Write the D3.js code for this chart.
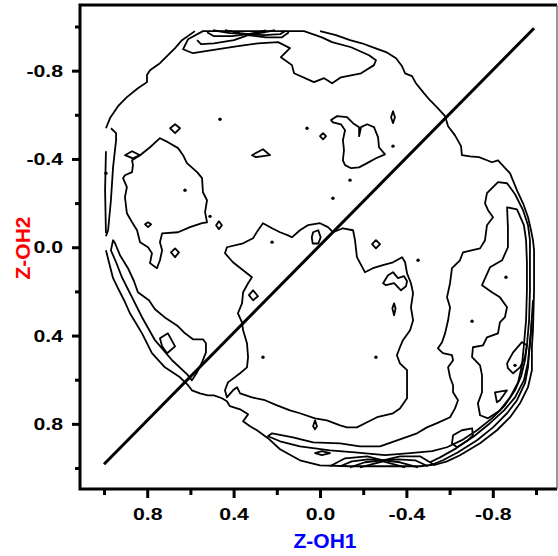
<!DOCTYPE html>
<html lang="en">
<head>
<meta charset="UTF-8">
<title>Z-OH1 vs Z-OH2 contour</title>
<script src="https://d3js.org/d3.v7.min.js"></script>
<style>
  body { margin: 0; background: #fff; }
  svg { display: block; font-family: Arial, 'Liberation Sans', sans-serif; }
  .axis path { display: none; }
  .axis line { stroke: #000; stroke-width: 3; }
  .axis text { font-size: 17px; font-weight: bold; fill: #000; }
  .contour { fill: none; stroke: #000; stroke-width: 1.8; stroke-linejoin: round; }
  .title { font-size: 21px; font-weight: bold; }
</style>
</head>
<body>
<svg width="558" height="556"></svg>
<script>
// tick values
const majorTicks = [-0.8, -0.4, 0, 0.4, 0.8];
const minorTicks = [-1, -0.6, -0.2, 0.2, 0.6, 1];

// diagonal reference line
const diagonal = [[1.0, 0.983], [-0.991, -0.992]];

// contour lines, points are [Z-OH1, Z-OH2]
const outerTopLeft = [[0.579,-0.979],[0.639,-0.938],[0.671,-0.902],[0.741,-0.834],[0.787,-0.802],[0.801,-0.780],[0.801,-0.748],[0.843,-0.720],[0.894,-0.680],[0.935,-0.639],[0.972,-0.585],[0.991,-0.539]];
const outerLeftEdge = [[0.991,-0.435],[0.995,-0.258],[0.991,-0.063]];
const outerMain = [[0.991,0.014],[0.977,0.068],[0.958,0.140],[0.935,0.186],[0.907,0.240],[0.880,0.299],[0.852,0.344],[0.824,0.390],[0.778,0.480],[0.718,0.544],[0.648,0.589],[0.611,0.625],[0.593,0.648],[0.556,0.662],[0.519,0.671],[0.491,0.671],[0.454,0.684],[0.431,0.698],[0.417,0.720],[0.370,0.734],[0.333,0.757],[0.356,0.788],[0.324,0.811],[0.292,0.829],[0.241,0.865],[0.185,0.915],[0.093,0.965],[0.000,0.988],[-0.139,0.992],[-0.292,0.992],[-0.463,0.992],[-0.542,0.983],[-0.588,0.970],[-0.648,0.942],[-0.741,0.888],[-0.819,0.829],[-0.880,0.770],[-0.926,0.707],[-0.963,0.634],[-0.981,0.557],[-0.981,0.453],[-0.986,0.376],[-0.991,0.195],[-0.991,0.014],[-0.986,-0.032],[-0.977,-0.077],[-0.963,-0.136],[-0.940,-0.199],[-0.912,-0.258],[-0.880,-0.335],[-0.824,-0.394],[-0.796,-0.385],[-0.773,-0.394],[-0.736,-0.408],[-0.694,-0.412],[-0.657,-0.417],[-0.653,-0.458],[-0.625,-0.507],[-0.593,-0.548],[-0.579,-0.594],[-0.542,-0.634],[-0.509,-0.666],[-0.481,-0.698],[-0.444,-0.743],[-0.426,-0.775],[-0.394,-0.788],[-0.380,-0.820],[-0.352,-0.856],[-0.306,-0.884],[-0.255,-0.902],[-0.194,-0.924],[-0.139,-0.938],[-0.074,-0.961],[0.000,-0.979]];
const leftEdgeBand = [[0.968,-0.539],[0.944,-0.517],[0.944,-0.485],[0.958,-0.363],[0.968,-0.213],[0.981,-0.077],[0.991,-0.050]];
const topLevel2 = [[0.542,-0.979],[0.611,-0.942],[0.634,-0.897],[0.588,-0.879],[0.500,-0.893],[0.380,-0.911],[0.287,-0.924],[0.194,-0.929],[0.139,-0.902],[0.181,-0.861],[0.130,-0.825],[0.120,-0.788],[0.028,-0.748],[-0.019,-0.766],[-0.056,-0.743],[-0.097,-0.770],[-0.190,-0.788],[-0.250,-0.825],[-0.259,-0.847],[-0.227,-0.870],[-0.144,-0.906],[-0.056,-0.929],[-0.009,-0.951],[0.074,-0.979]];
const topFanA = [[0.569,-0.938],[0.551,-0.920],[0.491,-0.924],[0.398,-0.938],[0.333,-0.961],[0.250,-0.951],[0.176,-0.951],[0.144,-0.974]];
const topFanB = [[0.523,-0.974],[0.491,-0.956],[0.407,-0.956],[0.333,-0.965],[0.259,-0.961],[0.185,-0.965],[0.162,-0.979]];
const topFanC = [[0.495,-0.983],[0.417,-0.970],[0.333,-0.965],[0.255,-0.974],[0.208,-0.983]];
const topFanD = [[0.440,-0.983],[0.370,-0.970],[0.333,-0.965],[0.287,-0.974],[0.250,-0.983]];
const lowerLeftBand = [[0.958,-0.032],[0.968,0.014],[0.944,0.068],[0.917,0.136],[0.870,0.227],[0.824,0.317],[0.764,0.421],[0.685,0.512],[0.616,0.575],[0.593,0.603],[0.569,0.566],[0.546,0.521],[0.528,0.476],[0.528,0.435],[0.542,0.417],[0.588,0.417],[0.625,0.390],[0.657,0.358],[0.713,0.322],[0.764,0.281],[0.792,0.240],[0.843,0.204],[0.861,0.154],[0.889,0.095],[0.926,0.036],[0.949,-0.018]];
const leftIsland = [[0.833,-0.417],[0.787,-0.453],[0.741,-0.494],[0.704,-0.476],[0.657,-0.449],[0.634,-0.417],[0.616,-0.381],[0.569,-0.340],[0.546,-0.313],[0.542,-0.249],[0.523,-0.213],[0.532,-0.159],[0.523,-0.113],[0.546,-0.109],[0.602,-0.091],[0.657,-0.068],[0.731,-0.063],[0.741,-0.023],[0.731,0.014],[0.741,0.059],[0.755,0.095],[0.787,0.072],[0.778,0.027],[0.796,0.000],[0.833,-0.023],[0.847,-0.077],[0.870,-0.113],[0.894,-0.154],[0.903,-0.227],[0.894,-0.272],[0.912,-0.313],[0.903,-0.326],[0.870,-0.340],[0.866,-0.372],[0.870,-0.394]];
const centerTopIsland = [[-0.051,-0.576],[-0.079,-0.594],[-0.125,-0.589],[-0.153,-0.562],[-0.181,-0.544],[-0.181,-0.503],[-0.190,-0.544],[-0.218,-0.557],[-0.250,-0.544],[-0.269,-0.498],[-0.273,-0.453],[-0.301,-0.421],[-0.259,-0.403],[-0.218,-0.381],[-0.181,-0.362],[-0.144,-0.358],[-0.116,-0.372],[-0.106,-0.394],[-0.111,-0.440],[-0.106,-0.485],[-0.116,-0.530],[-0.097,-0.557],[-0.060,-0.566]];
const centerRegion = [[0.431,0.000],[0.356,-0.018],[0.310,-0.041],[0.287,-0.077],[0.264,-0.109],[0.222,-0.086],[0.185,-0.068],[0.148,-0.054],[0.130,-0.045],[0.093,-0.077],[0.056,-0.100],[0.000,-0.109],[-0.037,-0.091],[-0.060,-0.068],[-0.106,-0.086],[-0.153,-0.077],[-0.162,-0.032],[-0.171,0.045],[-0.208,0.113],[-0.245,0.095],[-0.287,0.082],[-0.338,0.068],[-0.380,0.045],[-0.394,0.068],[-0.403,0.118],[-0.421,0.163],[-0.431,0.208],[-0.421,0.272],[-0.431,0.331],[-0.417,0.376],[-0.384,0.421],[-0.370,0.453],[-0.356,0.489],[-0.370,0.526],[-0.403,0.557],[-0.403,0.603],[-0.403,0.684],[-0.370,0.730],[-0.338,0.752],[-0.264,0.770],[-0.218,0.793],[-0.171,0.816],[-0.125,0.816],[-0.093,0.807],[-0.032,0.784],[0.023,0.775],[0.093,0.752],[0.139,0.739],[0.199,0.716],[0.255,0.693],[0.315,0.680],[0.370,0.662],[0.384,0.634],[0.403,0.648],[0.431,0.680],[0.440,0.648],[0.426,0.612],[0.370,0.571],[0.338,0.544],[0.333,0.498],[0.338,0.435],[0.356,0.376],[0.361,0.340],[0.380,0.299],[0.361,0.254],[0.356,0.204],[0.333,0.163],[0.315,0.136],[0.356,0.104],[0.403,0.068],[0.440,0.027]];
const rightBand2 = [[-0.824,-0.295],[-0.773,-0.245],[-0.764,-0.199],[-0.778,-0.168],[-0.801,-0.136],[-0.773,-0.100],[-0.764,-0.032],[-0.741,0.005],[-0.662,0.023],[-0.648,0.059],[-0.611,0.095],[-0.602,0.163],[-0.588,0.227],[-0.602,0.272],[-0.593,0.331],[-0.579,0.390],[-0.565,0.430],[-0.546,0.458],[-0.569,0.480],[-0.611,0.489],[-0.616,0.512],[-0.593,0.544],[-0.602,0.589],[-0.616,0.625],[-0.616,0.657],[-0.639,0.693],[-0.625,0.730],[-0.602,0.770],[-0.542,0.797],[-0.495,0.816],[-0.449,0.843],[-0.370,0.870],[-0.278,0.902],[-0.185,0.902],[-0.093,0.888],[0.032,0.884],[0.125,0.861],[0.222,0.843],[0.241,0.856],[0.185,0.879],[0.093,0.902],[-0.046,0.920],[-0.162,0.929],[-0.301,0.942],[-0.417,0.933],[-0.519,0.924],[-0.588,0.906],[-0.657,0.874],[-0.727,0.829],[-0.796,0.775],[-0.856,0.716],[-0.903,0.648],[-0.931,0.584],[-0.949,0.512],[-0.958,0.444],[-0.968,0.331],[-0.972,0.195],[-0.972,0.059],[-0.972,-0.032],[-0.963,-0.100],[-0.940,-0.168],[-0.903,-0.240],[-0.866,-0.290]];
const rightBand3 = [[-0.866,-0.181],[-0.870,-0.091],[-0.870,0.000],[-0.843,0.059],[-0.787,0.091],[-0.750,0.172],[-0.796,0.204],[-0.833,0.227],[-0.866,0.272],[-0.856,0.317],[-0.833,0.340],[-0.824,0.390],[-0.773,0.408],[-0.755,0.444],[-0.708,0.453],[-0.704,0.498],[-0.741,0.535],[-0.750,0.580],[-0.750,0.657],[-0.731,0.707],[-0.741,0.761],[-0.778,0.775],[-0.833,0.739],[-0.880,0.680],[-0.917,0.612],[-0.935,0.535],[-0.944,0.444],[-0.954,0.331],[-0.958,0.195],[-0.958,0.068],[-0.954,-0.032],[-0.944,-0.100],[-0.912,-0.172]];
const rightArcB = [[-0.986,0.240],[-0.977,0.376],[-0.968,0.467],[-0.963,0.544],[-0.949,0.616],[-0.912,0.693],[-0.866,0.752],[-0.801,0.816],[-0.727,0.874],[-0.639,0.929],[-0.569,0.965],[-0.523,0.983]];
const rightArcC = [[-0.981,0.331],[-0.972,0.444],[-0.963,0.521],[-0.944,0.603],[-0.903,0.680],[-0.852,0.739],[-0.787,0.797],[-0.713,0.856],[-0.630,0.911],[-0.556,0.952],[-0.509,0.974]];
const bottomFanA = [[-0.046,0.992],[-0.116,0.956],[-0.218,0.947],[-0.292,0.965],[-0.370,0.947],[-0.463,0.947],[-0.532,0.988]];
const bottomFanB = [[-0.093,0.992],[-0.148,0.970],[-0.222,0.961],[-0.292,0.965],[-0.361,0.961],[-0.440,0.965],[-0.500,0.992]];
const bottomFanC = [[-0.139,0.997],[-0.208,0.974],[-0.292,0.965],[-0.370,0.974],[-0.454,0.997]];
const bottomFanD = [[-0.185,0.997],[-0.292,0.970],[-0.394,0.997]];

// small closed loops
const smallLoops = [
  [[0.903,-0.417],[0.870,-0.435],[0.833,-0.417],[0.866,-0.403]],
  [[0.694,-0.539],[0.671,-0.557],[0.648,-0.539],[0.671,-0.517]],
  [[0.315,-0.417],[0.264,-0.444],[0.231,-0.417],[0.296,-0.408]],
  [[0.810,-0.104],[0.796,-0.113],[0.782,-0.104],[0.796,-0.091]],
  [[0.481,-0.100],[0.468,-0.118],[0.454,-0.100],[0.468,-0.082]],
  [[0.690,0.023],[0.671,0.005],[0.653,0.023],[0.671,0.045]],
  [[0.000,-0.503],[-0.014,-0.517],[-0.028,-0.503],[-0.014,-0.489]],
  [[-0.329,-0.589],[-0.338,-0.616],[-0.347,-0.589],[-0.338,-0.562]],
  [[-0.241,-0.014],[-0.259,-0.032],[-0.278,-0.014],[-0.259,0.005]],
  [[0.032,-0.068],[0.008,-0.077],[-0.003,-0.045],[0.008,-0.017],[0.034,-0.017],[0.038,-0.045]],
  [[0.329,0.217],[0.310,0.195],[0.287,0.222],[0.310,0.240]],
  [[0.741,0.412],[0.704,0.390],[0.671,0.449],[0.708,0.480],[0.731,0.449]],
  [[-0.343,0.254],[-0.350,0.277],[-0.343,0.308],[-0.335,0.277]],
  [[-0.292,0.163],[-0.315,0.127],[-0.338,0.113],[-0.361,0.140],[-0.389,0.131],[-0.403,0.154],[-0.398,0.177],[-0.375,0.195],[-0.343,0.163],[-0.306,0.172]],
  [[0.023,0.784],[0.014,0.811],[0.023,0.825],[0.032,0.811]],
  [[0.023,0.933],[-0.009,0.924],[-0.046,0.933],[-0.009,0.942]],
  [[-0.616,0.852],[-0.657,0.829],[-0.704,0.820],[-0.708,0.852],[-0.685,0.874],[-0.634,0.906],[-0.611,0.888]],
  [[-0.810,0.657],[-0.866,0.648],[-0.833,0.693],[-0.819,0.702]],
  [[-0.866,0.526],[-0.894,0.476],[-0.935,0.430],[-0.958,0.444],[-0.949,0.498],[-0.926,0.544],[-0.894,0.571],[-0.870,0.548]]
];

// single-cell peaks drawn as dots
const dots = [[0.463,-0.580],[0.060,-0.539],[-0.139,-0.304],[-0.060,-0.222],[-0.338,-0.458],[0.509,-0.140],[0.222,-0.023],[0.625,-0.258],[0.991,-0.335],[-0.903,0.535],[-0.861,0.136],[0.264,0.498],[-0.259,0.498],[-0.704,0.335],[-0.454,0.059]];

const openLines = [outerTopLeft, outerLeftEdge, outerMain, leftEdgeBand, topFanA, topFanB, topFanC, topFanD, rightArcB, rightArcC, bottomFanA, bottomFanB, bottomFanC, bottomFanD];
const closedLines = [topLevel2, lowerLeftBand, leftIsland, centerTopIsland, centerRegion, rightBand2, rightBand3, ...smallLoops];

const svg = d3.select("svg");
const frame = { left: 80, top: 5, right: 557, bottom: 489 };

const x = d3.scaleLinear().domain([1, -1]).range([frame.left + 24, frame.right - 21]);
const y = d3.scaleLinear().domain([-1, 1]).range([frame.top + 21.5, frame.bottom - 21]);

const line = d3.line().x(d => x(d[0])).y(d => y(d[1]));
const loop = d3.line().x(d => x(d[0])).y(d => y(d[1])).curve(d3.curveLinearClosed);

const plot = svg.append("g");
plot.selectAll("path.open").data(openLines).join("path")
    .attr("class", "contour open").attr("d", line);
plot.selectAll("path.closed").data(closedLines).join("path")
    .attr("class", "contour closed").attr("d", loop);
plot.selectAll("circle").data(dots).join("circle")
    .attr("cx", d => x(d[0])).attr("cy", d => y(d[1])).attr("r", 1.7).attr("fill", "#000");

plot.append("path").datum(diagonal)
    .attr("d", line).attr("fill", "none").attr("stroke", "#000").attr("stroke-width", 3);

// frame
svg.append("path")
    .attr("d", `M${frame.right},${frame.top}H${frame.left}V${frame.bottom}H${frame.right}`)
    .attr("fill", "none").attr("stroke", "#000").attr("stroke-width", 3);
svg.append("line")
    .attr("x1", frame.right).attr("x2", frame.right).attr("y1", frame.top).attr("y2", frame.bottom)
    .attr("stroke", "#555").attr("stroke-width", 1.2);

const fmt = d => d.toFixed(1);

// y axis
svg.append("g").attr("class", "axis").attr("transform", `translate(${frame.left},0)`)
    .call(d3.axisLeft(y).tickValues(minorTicks).tickSize(5).tickFormat(""));
const yAxis = svg.append("g").attr("class", "axis").attr("transform", `translate(${frame.left},0)`)
    .call(d3.axisLeft(y).tickValues(majorTicks).tickSize(8).tickPadding(9).tickFormat(fmt));

// x axis
svg.append("g").attr("class", "axis").attr("transform", `translate(0,${frame.bottom})`)
    .call(d3.axisBottom(x).tickValues(minorTicks).tickSize(6).tickFormat(""));
const xAxis = svg.append("g").attr("class", "axis").attr("transform", `translate(0,${frame.bottom})`)
    .call(d3.axisBottom(x).tickValues(majorTicks).tickSize(9).tickPadding(10).tickFormat(fmt));

// widen the bold tick labels like the original
yAxis.selectAll("text").each(function() {
    const t = d3.select(this), tx = +t.attr("x");
    t.attr("transform", `translate(${tx},0) scale(1.25,1) translate(${-tx},0)`);
});
xAxis.selectAll("text").attr("transform", "scale(1.25,1)");

svg.append("text").attr("class", "title")
    .attr("x", 325).attr("y", 548).attr("text-anchor", "middle")
    .attr("fill", "#0000ff").text("Z-OH1");

svg.append("text").attr("class", "title")
    .attr("transform", "translate(30,248) rotate(-90)").attr("text-anchor", "middle")
    .attr("fill", "#ff0000").text("Z-OH2");
</script>
</body>
</html>
